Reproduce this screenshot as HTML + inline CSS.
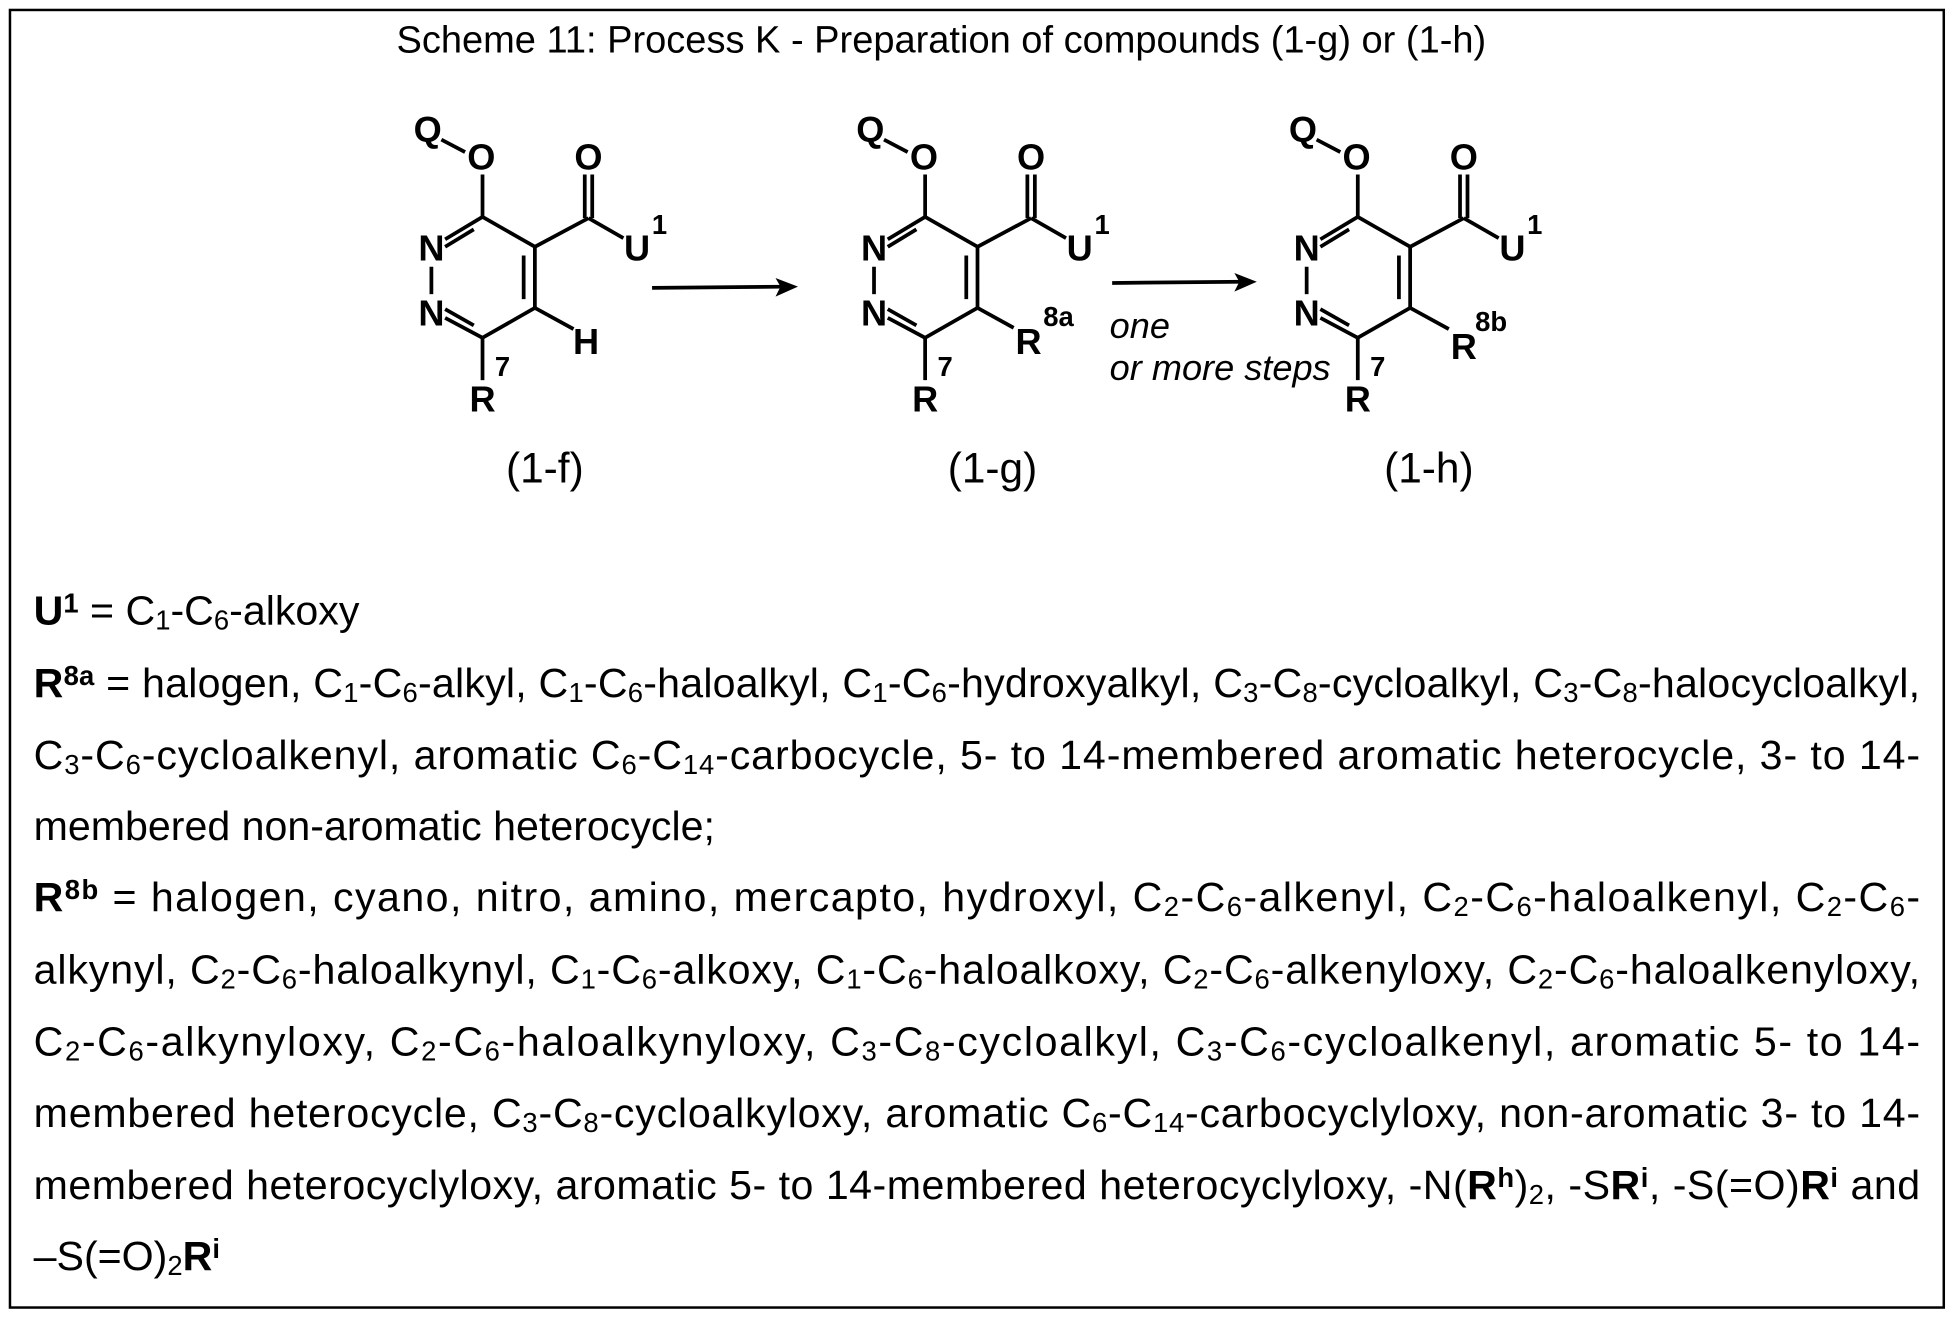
<!DOCTYPE html>
<html><head><meta charset="utf-8"><style>
html,body{margin:0;padding:0;background:#fff;}
svg{display:block}
text{font-family:"Liberation Sans",Arial,sans-serif;fill:#000}
.a{font-weight:bold;font-size:29px;text-anchor:middle;dominant-baseline:central}
.sp{font-size:22px;text-anchor:middle;dominant-baseline:central;font-weight:bold}
.b{font-size:33px}
.s{font-size:22px;baseline-shift:-4px}
.u{font-size:22px;baseline-shift:10px;font-weight:bold}
</style></head><body>
<svg width="1955" height="1320" viewBox="0 0 1568 1059" preserveAspectRatio="none" xmlns="http://www.w3.org/2000/svg">
<rect x="8" y="8" width="1551" height="1041" fill="none" stroke="#000" stroke-width="2"/>
<text x="755" y="42" font-size="30.5" text-anchor="middle">Scheme 11: Process K - Preparation of compounds (1-g) or (1-h)</text>
<defs>
<g id="m" stroke="#000" stroke-width="3" fill="none" stroke-linecap="butt">
<line x1="387" y1="174" x2="429" y2="198"/>
<line x1="429" y1="198" x2="429" y2="247"/>
<line x1="420" y1="205" x2="420" y2="240"/>
<line x1="429" y1="247" x2="387" y2="271"/>
<line x1="387" y1="271" x2="357" y2="255"/>
<line x1="380" y1="261" x2="357" y2="248"/>
<line x1="346" y1="214" x2="346" y2="236"/>
<line x1="387" y1="174" x2="357" y2="192"/>
<line x1="380" y1="184" x2="357" y2="198"/>
<line x1="387" y1="174" x2="387" y2="140"/>
<line x1="354" y1="112" x2="373" y2="122"/>
<line x1="429" y1="198" x2="472" y2="175"/>
<line x1="469" y1="175" x2="469" y2="140"/>
<line x1="475" y1="175" x2="475" y2="140"/>
<line x1="472" y1="175" x2="500" y2="191"/>
<line x1="387" y1="271" x2="387" y2="305"/>
</g>
</defs>
<use href="#m"/>
<use href="#m" x="355"/>
<use href="#m" x="702"/>
<g>
<text class="a" x="343" y="104">Q</text><text class="a" x="386" y="126">O</text><text class="a" x="472" y="126">O</text>
<text class="a" x="346" y="199">N</text><text class="a" x="346" y="251">N</text>
<text class="a" x="511" y="199">U</text><text class="sp" x="529" y="180">1</text>
<text class="a" x="387" y="320">R</text><text class="sp" x="403" y="294">7</text>
<text class="a" x="470" y="274">H</text>
<line x1="429" y1="247" x2="460" y2="264" stroke="#000" stroke-width="3"/>
</g>
<g>
<text class="a" x="698" y="104">Q</text><text class="a" x="741" y="126">O</text><text class="a" x="827" y="126">O</text>
<text class="a" x="701" y="199">N</text><text class="a" x="701" y="251">N</text>
<text class="a" x="866" y="199">U</text><text class="sp" x="884" y="180">1</text>
<text class="a" x="742" y="320">R</text><text class="sp" x="758" y="294">7</text>
<text class="a" x="825" y="274">R</text><text class="sp" x="849" y="254">8a</text>
<line x1="784" y1="247" x2="813" y2="263" stroke="#000" stroke-width="3"/>
</g>
<g>
<text class="a" x="1045" y="104">Q</text><text class="a" x="1088" y="126">O</text><text class="a" x="1174" y="126">O</text>
<text class="a" x="1048" y="199">N</text><text class="a" x="1048" y="251">N</text>
<text class="a" x="1213" y="199">U</text><text class="sp" x="1231" y="180">1</text>
<text class="a" x="1089" y="320">R</text><text class="sp" x="1105" y="294">7</text>
<text class="a" x="1174" y="278">R</text><text class="sp" x="1196" y="258">8b</text>
<line x1="1131" y1="247" x2="1162" y2="264" stroke="#000" stroke-width="3"/>
</g>
<line x1="523" y1="231" x2="628" y2="230" stroke="#000" stroke-width="3"/>
<polygon points="640,230 622,223 626,230 622,238" fill="#000"/>
<line x1="892" y1="227" x2="996" y2="226" stroke="#000" stroke-width="3"/>
<polygon points="1008,226 990,219 994,226 990,234" fill="#000"/>
<text x="890" y="271" font-size="29" font-style="italic">one</text>
<text x="890" y="305" font-size="29" font-style="italic">or more steps</text>
<text x="437" y="387" font-size="34" text-anchor="middle">(1-f)</text>
<text x="796" y="387" font-size="34" text-anchor="middle">(1-g)</text>
<text x="1146" y="387" font-size="34" text-anchor="middle">(1-h)</text>

<text class="b" x="27" y="501"><tspan font-weight="bold">U<tspan class="u">1</tspan></tspan> = C<tspan class="s">1</tspan>-C<tspan class="s">6</tspan>-alkoxy</text>
<text class="b" x="27" y="559" textLength="1513" lengthAdjust="spacing"><tspan font-weight="bold">R<tspan class="u">8a</tspan></tspan> = halogen, C<tspan class="s">1</tspan>-C<tspan class="s">6</tspan>-alkyl, C<tspan class="s">1</tspan>-C<tspan class="s">6</tspan>-haloalkyl, C<tspan class="s">1</tspan>-C<tspan class="s">6</tspan>-hydroxyalkyl, C<tspan class="s">3</tspan>-C<tspan class="s">8</tspan>-cycloalkyl, C<tspan class="s">3</tspan>-C<tspan class="s">8</tspan>-halocycloalkyl,</text>
<text class="b" x="27" y="617" textLength="1513" lengthAdjust="spacing">C<tspan class="s">3</tspan>-C<tspan class="s">6</tspan>-cycloalkenyl, aromatic C<tspan class="s">6</tspan>-C<tspan class="s">14</tspan>-carbocycle, 5- to 14-membered aromatic heterocycle, 3- to 14-</text>
<text class="b" x="27" y="674">membered non-aromatic heterocycle;</text>
<text class="b" x="27" y="731" textLength="1513" lengthAdjust="spacing"><tspan font-weight="bold">R<tspan class="u">8b</tspan></tspan> = halogen, cyano, nitro, amino, mercapto, hydroxyl, C<tspan class="s">2</tspan>-C<tspan class="s">6</tspan>-alkenyl, C<tspan class="s">2</tspan>-C<tspan class="s">6</tspan>-haloalkenyl, C<tspan class="s">2</tspan>-C<tspan class="s">6</tspan>-</text>
<text class="b" x="27" y="789" textLength="1513" lengthAdjust="spacing">alkynyl, C<tspan class="s">2</tspan>-C<tspan class="s">6</tspan>-haloalkynyl, C<tspan class="s">1</tspan>-C<tspan class="s">6</tspan>-alkoxy, C<tspan class="s">1</tspan>-C<tspan class="s">6</tspan>-haloalkoxy, C<tspan class="s">2</tspan>-C<tspan class="s">6</tspan>-alkenyloxy, C<tspan class="s">2</tspan>-C<tspan class="s">6</tspan>-haloalkenyloxy,</text>
<text class="b" x="27" y="847" textLength="1513" lengthAdjust="spacing">C<tspan class="s">2</tspan>-C<tspan class="s">6</tspan>-alkynyloxy, C<tspan class="s">2</tspan>-C<tspan class="s">6</tspan>-haloalkynyloxy, C<tspan class="s">3</tspan>-C<tspan class="s">8</tspan>-cycloalkyl, C<tspan class="s">3</tspan>-C<tspan class="s">6</tspan>-cycloalkenyl, aromatic 5- to 14-</text>
<text class="b" x="27" y="904" textLength="1513" lengthAdjust="spacing">membered heterocycle, C<tspan class="s">3</tspan>-C<tspan class="s">8</tspan>-cycloalkyloxy, aromatic C<tspan class="s">6</tspan>-C<tspan class="s">14</tspan>-carbocyclyloxy, non-aromatic 3- to 14-</text>
<text class="b" x="27" y="962" textLength="1513" lengthAdjust="spacing">membered heterocyclyloxy, aromatic 5- to 14-membered heterocyclyloxy, -N(<tspan font-weight="bold">R<tspan class="u">h</tspan></tspan>)<tspan class="s">2</tspan>, -S<tspan font-weight="bold">R<tspan class="u">i</tspan></tspan>, -S(=O)<tspan font-weight="bold">R<tspan class="u">i</tspan></tspan> and</text>
<text class="b" x="27" y="1019">–S(=O)<tspan class="s">2</tspan><tspan font-weight="bold">R<tspan class="u">i</tspan></tspan></text>
</svg>
</body></html>
